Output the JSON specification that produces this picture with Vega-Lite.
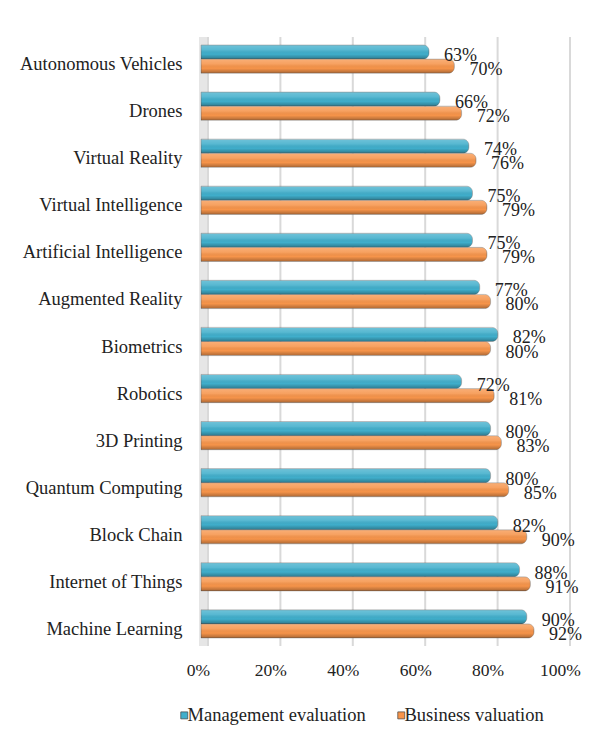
{
  "$schema": "https://vega.github.io/schema/vega-lite/v6.json",
  "autosize": {"type": "none"},
  "width": 362,
  "height": 609,
  "padding": {"left": 201, "top": 37, "right": 46, "bottom": 85},
  "background": "white",
  "datasets": {
    "bars": [
      {"category": "Autonomous Vehicles", "series": "Management evaluation", "value": 0.63},
      {"category": "Autonomous Vehicles", "series": "Business valuation", "value": 0.70},
      {"category": "Drones", "series": "Management evaluation", "value": 0.66},
      {"category": "Drones", "series": "Business valuation", "value": 0.72},
      {"category": "Virtual Reality", "series": "Management evaluation", "value": 0.74},
      {"category": "Virtual Reality", "series": "Business valuation", "value": 0.76},
      {"category": "Virtual Intelligence", "series": "Management evaluation", "value": 0.75},
      {"category": "Virtual Intelligence", "series": "Business valuation", "value": 0.79},
      {"category": "Artificial Intelligence", "series": "Management evaluation", "value": 0.75},
      {"category": "Artificial Intelligence", "series": "Business valuation", "value": 0.79},
      {"category": "Augmented Reality", "series": "Management evaluation", "value": 0.77},
      {"category": "Augmented Reality", "series": "Business valuation", "value": 0.80},
      {"category": "Biometrics", "series": "Management evaluation", "value": 0.82},
      {"category": "Biometrics", "series": "Business valuation", "value": 0.80},
      {"category": "Robotics", "series": "Management evaluation", "value": 0.72},
      {"category": "Robotics", "series": "Business valuation", "value": 0.81},
      {"category": "3D Printing", "series": "Management evaluation", "value": 0.80},
      {"category": "3D Printing", "series": "Business valuation", "value": 0.83},
      {"category": "Quantum Computing", "series": "Management evaluation", "value": 0.80},
      {"category": "Quantum Computing", "series": "Business valuation", "value": 0.85},
      {"category": "Block Chain", "series": "Management evaluation", "value": 0.82},
      {"category": "Block Chain", "series": "Business valuation", "value": 0.90},
      {"category": "Internet of Things", "series": "Management evaluation", "value": 0.88},
      {"category": "Internet of Things", "series": "Business valuation", "value": 0.91},
      {"category": "Machine Learning", "series": "Management evaluation", "value": 0.90},
      {"category": "Machine Learning", "series": "Business valuation", "value": 0.92}
    ],
    "grid": [{"v": 0}, {"v": 0.2}, {"v": 0.4}, {"v": 0.6}, {"v": 0.8}, {"v": 1}]
  },
  "data": {"name": "bars"},
  "config": {
    "font": "Liberation Serif",
    "view": {"stroke": null},
    "axis": {"labelFont": "Liberation Serif", "labelColor": "#222222", "titleFont": "Liberation Serif"},
    "legend": {"labelFont": "Liberation Serif"},
    "text": {"font": "Liberation Serif"}
  },
  "layer": [
    {
      "mark": {"type": "rule", "color": "#e6e6e6", "strokeWidth": 8, "xOffset": 2},
      "encoding": {
        "x": {"datum": 0, "type": "quantitative"}
      }
    },
    {
      "data": {"name": "grid"},
      "mark": {"type": "rule", "color": "#d9d9d9", "strokeWidth": 2, "xOffset": 7},
      "encoding": {
        "x": {
          "field": "v",
          "type": "quantitative",
          "title": null,
          "scale": {"domain": [0, 1], "nice": false},
          "axis": {
            "format": ".0%",
            "values": [0, 0.2, 0.4, 0.6, 0.8, 1],
            "labelFont": "Liberation Serif",
            "labelFontSize": 17.5,
            "labelPadding": 15,
            "labelOffset": -3,
            "labelFlush": false,
            "domain": false,
            "ticks": false,
            "grid": false
          }
        }
      }
    },
    {
      "mark": {"type": "bar", "cornerRadiusEnd": 6, "stroke": "#6a6a6a", "strokeWidth": 0.6, "strokeOpacity": 0.6},
      "encoding": {
        "y": {
          "field": "category",
          "type": "nominal",
          "sort": null,
          "title": null,
          "scale": {"paddingInner": 0.40, "paddingOuter": 0.17},
          "axis": {"domain": false, "ticks": false, "labelFont": "Liberation Serif", "labelFontSize": 18.5, "labelPadding": 19, "labelLimit": 220, "labelOffset": 5}
        },
        "yOffset": {"field": "series", "type": "nominal", "sort": ["Management evaluation", "Business valuation"]},
        "x": {"field": "value", "type": "quantitative"},
        "color": {
          "field": "series",
          "type": "nominal",
          "sort": ["Management evaluation", "Business valuation"],
          "scale": {"domain": ["Management evaluation", "Business valuation"], "range": ["#40AECB", "#F6944A"]},
          "legend": {
            "title": null,
            "orient": "none",
            "direction": "horizontal",
            "legendX": -26,
            "legendY": 669,
            "symbolType": "square",
            "symbolSize": 49,
            "symbolStrokeColor": "#444444",
            "symbolStrokeWidth": 0.7,
            "labelFont": "Liberation Serif",
            "labelFontSize": 18.5,
            "labelLimit": 250,
            "labelColor": "#222222",
            "columnPadding": 26,
            "labelOffset": -6
          }
        }
      }
    },
    {
      "mark": {
        "type": "bar",
        "cornerRadiusEnd": 6,
        "fill": {
          "gradient": "linear",
          "x1": 0, "y1": 0, "x2": 0, "y2": 1,
          "stops": [
            {"offset": 0, "color": "rgba(255,255,255,0.25)"},
            {"offset": 0.35, "color": "rgba(255,255,255,0.12)"},
            {"offset": 0.65, "color": "rgba(0,0,0,0)"},
            {"offset": 1, "color": "rgba(0,0,0,0.3)"}
          ]
        }
      },
      "encoding": {
        "y": {"field": "category", "type": "nominal", "sort": null},
        "yOffset": {"field": "series", "type": "nominal", "sort": ["Management evaluation", "Business valuation"]},
        "x": {"field": "value", "type": "quantitative"}
      }
    },
    {
      "mark": {"type": "text", "align": "left", "baseline": "middle", "dx": 15, "dy": 4, "fontSize": 18, "font": "Liberation Serif", "color": "#222222"},
      "encoding": {
        "y": {"field": "category", "type": "nominal", "sort": null},
        "yOffset": {"field": "series", "type": "nominal", "sort": ["Management evaluation", "Business valuation"]},
        "x": {"field": "value", "type": "quantitative"},
        "text": {"field": "value", "type": "quantitative", "format": ".0%"}
      }
    }
  ]
}
